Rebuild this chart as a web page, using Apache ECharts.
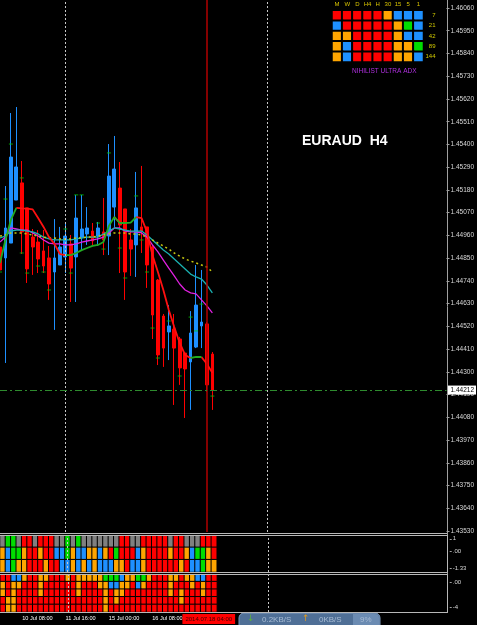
<!DOCTYPE html>
<html>
<head>
<meta charset="utf-8">
<script src="https://cdn.jsdelivr.net/npm/echarts@6/dist/echarts.min.js"></script>
<style>
  html, body { margin: 0; padding: 0; background: #000; }
  #chart { width: 477px; height: 625px; }
</style>
</head>
<body>
<div id="chart"></div>
<script>
// H4 bars, index 0 = 09 Jul 20:00 (bars after 39 are empty space on the right)
var bars = Array.from({length: 83}, function (_, i) { return String(i); });

var opens  = [1.44904,1.44851,1.44923,1.45131,1.45214,1.45093,1.44952,1.44928,1.44885,1.44851,1.44783,1.44817,1.44856,1.44919,1.44856,1.44948,1.44967,1.44981,1.44957,1.44977,1.44957,1.45097,1.45189,1.45088,1.44938,1.44914,1.45001,1.45001,1.44904,1.44744,1.44570,1.44493,1.44507,1.44459,1.44391,1.44348,1.44420,1.44522,1.44532,1.44386];
var highs  = [1.44938,1.45199,1.45552,1.45581,1.45320,1.45093,1.44991,1.44986,1.44986,1.44909,1.45039,1.45001,1.45020,1.44962,1.45156,1.45156,1.45097,1.45020,1.45025,1.45141,1.45402,1.45441,1.45315,1.45088,1.44991,1.45267,1.45296,1.45001,1.44914,1.44749,1.44580,1.44623,1.44580,1.44469,1.44396,1.44594,1.44817,1.44793,1.44541,1.44396];
var lows   = [1.44769,1.44343,1.44923,1.45131,1.44870,1.44730,1.44769,1.44778,1.44778,1.44648,1.44503,1.44817,1.44778,1.44638,1.44638,1.44889,1.44914,1.44909,1.44909,1.44865,1.44865,1.45001,1.44778,1.44648,1.44764,1.44759,1.44875,1.44706,1.44459,1.44333,1.44324,1.44357,1.44140,1.44237,1.44077,1.44116,1.44415,1.44415,1.44203,1.44116];
var closes = [1.44793,1.44996,1.45339,1.45291,1.44977,1.44798,1.44904,1.44846,1.44812,1.44725,1.44851,1.44904,1.44957,1.44802,1.45044,1.44991,1.44996,1.44933,1.44996,1.44938,1.45247,1.45281,1.45010,1.44783,1.44894,1.45093,1.44981,1.44817,1.44575,1.44382,1.44415,1.44522,1.44415,1.44319,1.44314,1.44488,1.44623,1.44541,1.44237,1.44212];

// moving averages
var trendMA  = [1.44827,1.44938,1.45035,1.45093,1.45091,1.45090,1.45086,1.45044,1.45001,1.44952,1.44919,1.44870,1.44865,1.44865,1.44875,1.44889,1.44899,1.44909,1.44914,1.44928,1.45006,1.45049,1.45020,1.45020,1.45022,1.45049,1.45044,1.44977,1.44865,1.44783,1.44696,1.44599,1.44517,1.44440,1.44382,1.44367,1.44372,1.44372,1.44338,1.44295];
var magentaMA = [1.44928,1.44952,1.44996,1.44991,1.44986,1.44986,1.44972,1.44957,1.44938,1.44923,1.44919,1.44919,1.44914,1.44914,1.44919,1.44928,1.44933,1.44938,1.44943,1.44952,1.44972,1.44996,1.44996,1.44981,1.44977,1.44977,1.44972,1.44952,1.44914,1.44880,1.44841,1.44802,1.44764,1.44725,1.44696,1.44682,1.44677,1.44648,1.44619,1.44585];
var cyanMA   = [1.44948,1.44957,1.44981,1.44986,1.44986,1.44981,1.44977,1.44967,1.44952,1.44943,1.44938,1.44938,1.44938,1.44938,1.44943,1.44948,1.44952,1.44952,1.44952,1.44967,1.44981,1.44996,1.44991,1.44986,1.44981,1.44981,1.44981,1.44962,1.44938,1.44914,1.44889,1.44870,1.44846,1.44822,1.44798,1.44773,1.44759,1.44749,1.44720,1.44682];
var yellowMA = [1.44957,1.44962,1.44972,1.44972,1.44972,1.44967,1.44962,1.44957,1.44952,1.44948,1.44948,1.44943,1.44943,1.44943,1.44948,1.44948,1.44952,1.44952,1.44957,1.44962,1.44967,1.44972,1.44972,1.44972,1.44967,1.44967,1.44962,1.44952,1.44938,1.44923,1.44909,1.44894,1.44875,1.44860,1.44846,1.44836,1.44827,1.44817,1.44807,1.44783];

// small green level dashes [bar, price]
var levelMarks = [[0,1.44783],[1,1.45136],[2,1.45402],[4,1.45238],[4,1.44875],[5,1.44778],[7,1.44812],[8,1.44783],[9,1.44696],[12,1.44991],[13,1.44778],[14,1.45156],[15,1.45156],[18,1.45020],[19,1.44894],[20,1.45359],[22,1.44899],[23,1.44754],[25,1.45151],[26,1.44938],[27,1.44783],[28,1.44512],[29,1.44367],[31,1.44546],[33,1.44280],[35,1.44565],[36,1.44498],[37,1.44628],[39,1.44183]];

var lastPrice = 1.44212;
var separatorBars = ['12', '49'];
var cursorBar = '38';
var cursorText = '2014.07.18 04:00';

var priceTicks = [1.46060,1.45950,1.45840,1.45730,1.45620,1.45510,1.45400,1.45290,1.45180,1.45070,1.44960,1.44850,1.44740,1.44630,1.44520,1.44410,1.44300,1.44190,1.44080,1.43970,1.43860,1.43750,1.43640,1.43530];
var timeLabels = {3: '10 Jul 08:00', 11: '11 Jul 16:00', 19: '15 Jul 00:00', 27: '16 Jul 08:00'};

// indicator states: 0 red, 1 orange, 2 gray, 3 green, 4 blue
var pane1Rows = ['A', 'B', 'C'];
var pane1A = [2,3,3,2,0,0,2,0,0,0,2,2,3,2,3,2,2,2,2,2,2,2,0,0,2,2,0,0,0,0,0,2,0,0,2,2,2,0,0,0];
var pane1B = [1,4,3,3,1,0,0,1,0,0,4,4,3,1,4,4,1,1,4,1,0,3,0,0,0,4,1,0,0,0,0,1,0,0,1,4,3,3,1,0];
var pane1C = [1,4,3,1,1,0,0,0,1,0,0,4,4,1,4,1,4,1,4,4,4,1,1,0,4,4,1,0,0,0,0,0,0,1,0,4,4,3,1,1];
var pane2Rows = ['1', '2', '3', '4', '5'];
var pane2R1 = [0,0,4,4,1,0,0,1,1,0,0,0,1,0,1,1,1,1,1,3,3,3,4,1,1,3,3,1,0,0,0,1,1,0,1,1,4,4,0,0];
var pane2R2 = [1,0,1,1,0,0,0,1,0,0,0,0,0,0,1,0,0,0,1,1,4,4,1,1,0,4,1,0,0,0,0,1,0,0,0,1,0,1,0,0];
var pane2R3 = [1,0,1,0,0,0,0,1,0,0,0,0,0,0,1,0,0,0,0,1,0,1,1,0,0,0,0,0,0,0,0,1,0,1,0,0,0,1,0,0];
var pane2R4 = [0,1,1,0,0,0,0,0,0,0,0,0,0,0,0,0,0,0,0,1,0,1,0,0,0,0,0,0,0,0,0,0,0,1,0,0,0,0,0,0];
var pane2R5 = [0,1,1,0,0,0,0,0,0,0,0,0,0,0,0,0,0,0,0,1,0,0,0,0,0,0,0,0,0,0,0,0,0,0,0,0,0,0,0,0];
var pane1Ticks = [[1, '1'], [0, '.00'], [-1.33, '-1.33']];
var pane2Ticks = [[0, '.00'], [-4, '-4']];

// NIHILIST ULTRA ADX table
var adxFrames = ['M', 'W', 'D', 'H4', 'H', '30', '15', '5', '1'];
var adxPeriods = ['7', '21', '42', '89', '144'];
var adxTable = [
  [0,0,0,0,0,1,4,4,4],
  [4,0,0,0,0,0,1,3,4],
  [1,1,0,0,0,0,1,4,4],
  [1,4,0,0,0,0,1,1,3],
  [1,4,0,0,0,0,1,1,4]
];

var stateColors = ['#ff0000', '#ffa500', '#808080', '#00dd00', '#1e90ff'];

var candleData = opens.map(function (o, i) { return [o, closes[i], lows[i], highs[i]]; });

function falling(s) { return s >= 0 && s < trendMA.length - 1 && trendMA[s + 1] < trendMA[s]; }
function rising(s) { return s >= 0 && s < trendMA.length - 1 && trendMA[s + 1] >= trendMA[s]; }
var trendRed = trendMA.map(function (v, i) { return (falling(i - 1) || falling(i)) ? v : null; });
var trendGreen = trendMA.map(function (v, i) { return (rising(i - 1) || rising(i)) ? v : null; });

function rowsToCells(rows, names) {
  var out = [];
  rows.forEach(function (row, r) {
    row.forEach(function (v, i) { out.push([i, names[r], v]); });
  });
  return out;
}
var pane1Cells = rowsToCells([pane1A, pane1B, pane1C], pane1Rows);
var pane2Cells = rowsToCells([pane2R1, pane2R2, pane2R3, pane2R4, pane2R5], pane2Rows);
var adxCells = [];
adxTable.forEach(function (row, r) {
  row.forEach(function (v, c) { adxCells.push([adxFrames[c], adxPeriods[r], v]); });
});

var priceMax = 1.460987, priceMin = 1.435254;
var emptyBars = bars.map(function () { return null; });

var sepLines = separatorBars.map(function (b) {
  return {xAxis: b, lineStyle: {color: '#c8c8c8', type: [2, 2], width: 1}};
});

var chart = echarts.init(document.getElementById('chart'));
chart.setOption({
  backgroundColor: '#000',
  animation: false,
  textStyle: {fontFamily: 'Liberation Sans'},
  title: [
    {text: 'EURAUD  H4', left: 297, top: 129,
     textStyle: {color: '#fff', fontSize: 14, fontWeight: 'bold', fontFamily: 'Liberation Sans'}},
    {text: 'NIHILIST ULTRA ADX', left: 347, top: 63,
     textStyle: {color: '#b030e0', fontSize: 6.5, fontWeight: 'normal'}}
  ],
  grid: [
    {left: 0, top: 0, width: 447, height: 532},
    {left: -2.725, top: 535, width: 452.45, height: 37},
    {left: -2.725, top: 574, width: 452.45, height: 38},
    {left: 332, top: 10.3, width: 91.5, height: 51.7}
  ],
  xAxis: [
    {gridIndex: 0, type: 'category', data: bars, boundaryGap: false, show: false},
    {gridIndex: 1, type: 'category', data: bars, boundaryGap: true, show: false},
    {gridIndex: 2, type: 'category', data: bars, boundaryGap: true,
     axisLine: {show: false},
     axisTick: {show: true, length: 4, alignWithLabel: true, lineStyle: {color: '#a0a0a0'},
                interval: function (idx) { return timeLabels[idx] !== undefined; }},
     axisLabel: {interval: 0, align: 'left', margin: 3, padding: [0, 0, 0, 3],
                 color: '#fff', fontSize: 5.6,
                 formatter: function (v, idx) { return timeLabels[idx] || ''; }}},
    {gridIndex: 3, type: 'category', data: adxFrames, position: 'top',
     axisLine: {show: false}, axisTick: {show: false},
     axisLabel: {color: '#d8c400', fontSize: 6, margin: 3}}
  ],
  yAxis: [
    {gridIndex: 0, type: 'value', position: 'right', min: priceMin, max: priceMax,
     splitLine: {show: false}, axisLine: {show: false},
     axisTick: {show: true, length: 3, lineStyle: {color: '#a0a0a0'}, customValues: priceTicks},
     axisLabel: {customValues: priceTicks, color: '#d8d8d8', fontSize: 6.5, margin: 4,
                 formatter: function (v) { return v.toFixed(5); }}},
    {gridIndex: 1, type: 'category', data: pane1Rows, inverse: true, position: 'left', show: false},
    {gridIndex: 1, type: 'value', position: 'right', min: -1.6, max: 1.3,
     splitLine: {show: false}, axisLine: {show: false},
     axisTick: {show: true, length: 2, lineStyle: {color: '#a0a0a0'}, customValues: pane1Ticks.map(function (t) { return t[0]; })},
     axisLabel: {customValues: pane1Ticks.map(function (t) { return t[0]; }), color: '#d8d8d8', fontSize: 6, margin: 3,
                 formatter: function (v) { var t = pane1Ticks.find(function (p) { return Math.abs(p[0] - v) < 1e-6; }); return t ? t[1] : ''; }}},
    {gridIndex: 2, type: 'category', data: pane2Rows, inverse: true, position: 'left', show: false},
    {gridIndex: 2, type: 'value', position: 'right', min: -4.8, max: 1.28,
     splitLine: {show: false}, axisLine: {show: false},
     axisTick: {show: true, length: 2, lineStyle: {color: '#a0a0a0'}, customValues: pane2Ticks.map(function (t) { return t[0]; })},
     axisLabel: {customValues: pane2Ticks.map(function (t) { return t[0]; }), color: '#d8d8d8', fontSize: 6, margin: 3,
                 formatter: function (v) { var t = pane2Ticks.find(function (p) { return Math.abs(p[0] - v) < 1e-6; }); return t ? t[1] : ''; }}},
    {gridIndex: 3, type: 'category', data: adxPeriods, inverse: true, position: 'right',
     axisLine: {show: false}, axisTick: {show: false},
     axisLabel: {color: '#d0c800', fontSize: 6, margin: 12, align: 'right'}}
  ],
  visualMap: {
    type: 'piecewise', show: false, dimension: 2, seriesIndex: [7, 8, 9],
    pieces: stateColors.map(function (c, i) { return {value: i, color: c}; })
  },
  series: [
    {
      type: 'candlestick', xAxisIndex: 0, yAxisIndex: 0, data: candleData,
      barWidth: 3.2,
      itemStyle: {color: '#1e90ff', color0: '#ff0000', borderColor: '#1e90ff', borderColor0: '#ff0000', borderWidth: 1},
      markLine: {
        silent: true, symbol: 'none', label: {show: false},
        data: sepLines.concat([
          {xAxis: cursorBar, lineStyle: {color: '#b00000', width: 1.5, type: 'solid'}}
        ])
      }
    },
    {type: 'line', xAxisIndex: 0, yAxisIndex: 0, data: trendRed, symbol: 'none', connectNulls: false,
     lineStyle: {color: '#ff1010', width: 1.8}, z: 4},
    {type: 'line', xAxisIndex: 0, yAxisIndex: 0, data: trendGreen, symbol: 'none', connectNulls: false,
     lineStyle: {color: '#22aa22', width: 1.8}, z: 4},
    {type: 'line', xAxisIndex: 0, yAxisIndex: 0, data: magentaMA, symbol: 'none',
     lineStyle: {color: '#e020e0', width: 1.3}, z: 3},
    {type: 'line', xAxisIndex: 0, yAxisIndex: 0, data: cyanMA, symbol: 'none',
     lineStyle: {color: '#1ab0b0', width: 1.3}, z: 3},
    {type: 'line', xAxisIndex: 0, yAxisIndex: 0, data: yellowMA, symbol: 'none',
     lineStyle: {color: '#c8c810', width: 1.5, type: [2, 3]}, z: 3},
    {type: 'scatter', xAxisIndex: 0, yAxisIndex: 0, data: levelMarks, symbol: 'rect', symbolSize: [4, 1],
     itemStyle: {color: '#00c800'}, z: 5,
     markLine: {
       silent: true, symbol: 'none', precision: 5,
       data: [
         {yAxis: lastPrice, lineStyle: {color: '#2e8b2e', width: 1, type: [7, 3, 2, 3]},
          label: {show: true, position: 'end', distance: 1, formatter: lastPrice.toFixed(5),
                  backgroundColor: '#fff', color: '#000', fontSize: 6.5, padding: [1, 2, 1, 3]}}
       ]
     }},
    {type: 'heatmap', xAxisIndex: 1, yAxisIndex: 1, data: pane1Cells, z: 3,
     itemStyle: {borderColor: '#000', borderWidth: 1}, emphasis: {disabled: true}},
    {type: 'heatmap', xAxisIndex: 2, yAxisIndex: 3, data: pane2Cells, z: 3,
     itemStyle: {borderColor: '#000', borderWidth: 1}, emphasis: {disabled: true}},
    {type: 'heatmap', xAxisIndex: 3, yAxisIndex: 5, data: adxCells, z: 3,
     itemStyle: {borderColor: '#000', borderWidth: 2}, emphasis: {disabled: true}},
    {type: 'line', xAxisIndex: 1, yAxisIndex: 2, data: emptyBars, z: 1, symbol: 'none',
     markLine: {silent: true, symbol: 'none', label: {show: false}, data: sepLines}},
    {type: 'line', xAxisIndex: 2, yAxisIndex: 4, data: emptyBars, z: 1, symbol: 'none',
     markLine: {silent: true, symbol: 'none', label: {show: false},
       data: sepLines.concat([
         {xAxis: cursorBar, lineStyle: {color: 'rgba(0,0,0,0)', width: 1},
          label: {show: true, position: 'start', distance: 2, formatter: cursorText,
                  backgroundColor: '#ff0000', color: '#400000', fontSize: 6, padding: [2, 3]}}
       ])}}
  ],
  graphic: [
    {type: 'line', z: 20, shape: {x1: 447.5, y1: 0, x2: 447.5, y2: 613}, style: {stroke: '#a0a0a0', lineWidth: 1}},
    {type: 'line', z: 20, shape: {x1: 0, y1: 533.5, x2: 447, y2: 533.5}, style: {stroke: '#b8b8b8', lineWidth: 1}},
    {type: 'rect', z: 20, shape: {x: -1, y: 535.5, width: 448.5, height: 37}, style: {fill: 'transparent', stroke: '#b8b8b8', lineWidth: 1}},
    {type: 'rect', z: 20, shape: {x: -1, y: 574.5, width: 448.5, height: 38}, style: {fill: 'transparent', stroke: '#b8b8b8', lineWidth: 1}},
    {type: 'group', z: 30, children: [
      {type: 'rect', shape: {x: 239, y: 613, width: 141, height: 14, r: [5, 5, 0, 0]}, style: {fill: '#4f6f96', stroke: '#7f9cc0', lineWidth: 1}},
      {type: 'rect', shape: {x: 353, y: 614, width: 26, height: 13, r: [0, 4, 0, 0]}, style: {fill: '#6b8bb2'}},
      {type: 'text', x: 247, y: 614, style: {text: '\u2193', fill: '#5cb040', fontSize: 9, fontFamily: 'DejaVu Sans'}},
      {type: 'text', x: 262, y: 615.5, style: {text: '0.2KB/S', fill: '#a8bcd4', fontSize: 8}},
      {type: 'text', x: 302, y: 614, style: {text: '\u2191', fill: '#e09a20', fontSize: 9, fontFamily: 'DejaVu Sans'}},
      {type: 'text', x: 319, y: 615.5, style: {text: '0KB/S', fill: '#a8bcd4', fontSize: 8}},
      {type: 'text', x: 360, y: 615.5, style: {text: '9%', fill: '#a8bcd4', fontSize: 8}}
    ]}
  ]
});
</script>
</body>
</html>
